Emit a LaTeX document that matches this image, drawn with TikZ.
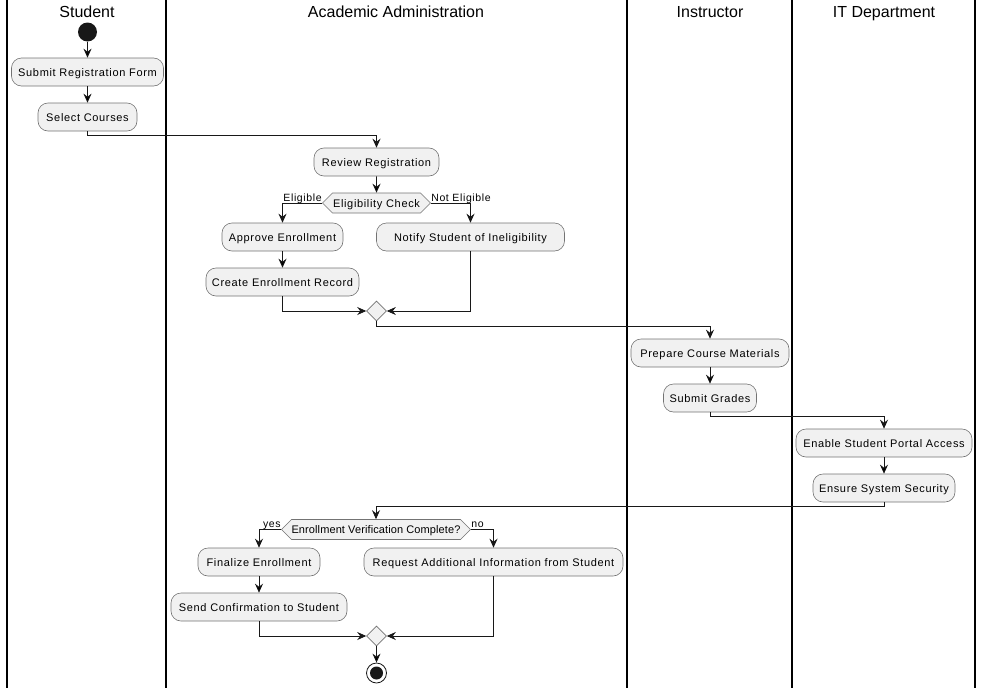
\documentclass[tikz,border=0pt]{standalone}
\usepackage{fontspec}
\setmainfont{Liberation Sans}
\newfontfamily\actfont[LetterSpace=6]{Liberation Sans}
\newfontfamily\chkfont[LetterSpace=1]{Liberation Sans}
\usetikzlibrary{arrows.meta,shapes.geometric,shapes.symbols}
\definecolor{actfill}{HTML}{F1F1F1}
\definecolor{actline}{HTML}{181818}
\begin{document}
\begin{tikzpicture}[x=1pt,y=-1pt]
          \tikzstyle{lane}=[draw=black,line width=1.3pt]
          \tikzstyle{lanetitle}=[text height=11.5pt,text depth=0pt,inner sep=0pt,font=\fontsize{16}{19}\selectfont]
          \tikzstyle{activity}=[rectangle,rounded corners=10pt,draw=black!55,line width=0.6pt,fill=actfill,minimum height=28pt,inner sep=0pt,text height=8pt,text depth=0pt,font=\actfont\fontsize{11}{13}\selectfont]
          \tikzstyle{check}=[signal,signal to=west and east,signal pointer angle=90,draw=black!55,line width=0.6pt,fill=actfill,minimum height=20pt,inner xsep=0pt,inner ysep=0pt,text height=8pt,text depth=0pt,font=\chkfont\fontsize{11}{13}\selectfont]
          \tikzstyle{merge}=[diamond,draw=black!55,line width=0.6pt,fill=actfill,minimum width=20pt,minimum height=20pt,inner sep=0pt]
          \tikzstyle{startdot}=[circle,fill=actline,minimum size=19pt,inner sep=0pt]
          \tikzstyle{stopdot}=[circle,draw=actline,line width=0.8pt,fill=white,minimum size=20pt,inner sep=0pt,path picture={\fill[actline] (path picture bounding box.center) circle (6.5pt);}]
          \tikzstyle{branch}=[inner sep=0pt,yshift=2pt,font=\actfont\fontsize{10.5}{12}\selectfont]
          \tikzstyle{edge}=[draw=actline,line width=0.8pt,-{Stealth[length=9pt,width=8pt,inset=3pt]}]
          \useasboundingbox (0,0) rectangle (982,688);
          % swimlanes
          \foreach \x in {7,166,627,792,975}
              \draw[lane] (\x,0) -- (\x,688);
          \node [lanetitle] (hstu) at (87,12) {Student};
          \node [lanetitle] (hadm) at (396,12) {Academic Administration};
          \node [lanetitle] (hins) at (710,12) {Instructor};
          \node [lanetitle] (hit) at (884,12) {IT Department};
          \begin{scope}
              \node [startdot] (start) at (87.5,32) {};
              \node [activity,minimum width=152pt] (subm) at (87.5,72) {Submit Registration Form};
              \node [activity,minimum width=99pt] (sel) at (87.5,117) {Select Courses};
              \node [activity,minimum width=125pt] (rev) at (376.5,162) {Review Registration};
              \node [check,minimum width=108pt,font=\actfont\fontsize{11}{13}\selectfont] (chk1) at (376.5,203) {Eligibility Check};
              \node [activity,minimum width=121pt] (appr) at (282.5,237) {Approve Enrollment};
              \node [activity,minimum width=188pt] (noti) at (470.5,237) {Notify Student of Ineligibility};
              \node [activity,minimum width=153pt] (rec) at (282.5,282) {Create Enrollment Record};
              \node [merge] (mrg1) at (376.5,311) {};
              \node [activity,minimum width=158pt] (prep) at (710,353) {Prepare Course Materials};
              \node [activity,minimum width=93pt] (grd) at (710,398) {Submit Grades};
              \node [activity,minimum width=176pt] (portal) at (884,443) {Enable Student Portal Access};
              \node [activity,minimum width=142pt] (secu) at (884,488) {Ensure System Security};
              \node [check,minimum width=189pt] (chk2) at (376,529.5) {Enrollment Verification Complete?};
              \node [activity,minimum width=122pt] (fin) at (259,562) {Finalize Enrollment};
              \node [activity,minimum width=259pt] (req) at (493.5,562) {Request Additional Information from Student};
              \node [activity,minimum width=176pt] (send) at (259,607) {Send Confirmation to Student};
              \node [merge] (mrg2) at (376.5,636) {};
              \node [stopdot] (stop) at (376.5,673) {};
              \path[edge] (start) edge (subm);
              \path[edge] (subm) edge (sel);
              \path[edge] (sel.south) -- ++(0,4) -| (rev.north);
              \path[edge] (rev) edge (chk1);
              \path[edge] (chk1.west) -| node[branch,pos=0,anchor=base east] {Eligible} (appr.north);
              \path[edge] (chk1.east) -| node[branch,pos=0,anchor=base west] {Not Eligible} (noti.north);
              \path[edge] (appr) edge (rec);
              \path[edge] (rec.south) |- (mrg1.west);
              \path[edge] (noti.south) |- (mrg1.east);
              \path[edge] (mrg1.south) -- ++(0,5) -| (prep.north);
              \path[edge] (prep) edge (grd);
              \path[edge] (grd.south) -- ++(0,4) -| (portal.north);
              \path[edge] (portal) edge (secu);
              \path[edge] (secu.south) -- ++(0,4) -| (chk2.north);
              \path[edge] (chk2.west) -| node[branch,pos=0,anchor=base east] {yes} (fin.north);
              \path[edge] (chk2.east) -| node[branch,pos=0,anchor=base west] {no} (req.north);
              \path[edge] (fin) edge (send);
              \path[edge] (send.south) |- (mrg2.west);
              \path[edge] (req.south) |- (mrg2.east);
              \path[edge] (mrg2) edge (stop);
          \end{scope}
        \end{tikzpicture}
\end{document}
